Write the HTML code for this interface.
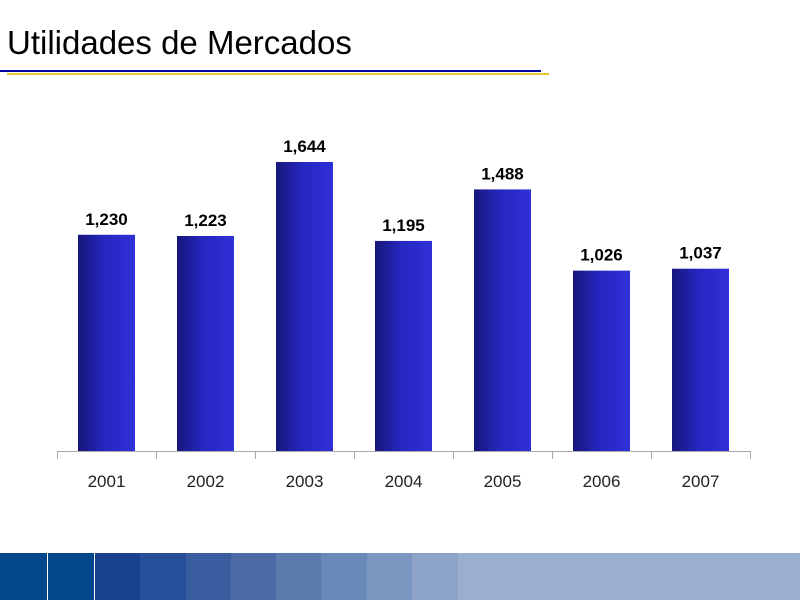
<!DOCTYPE html>
<html><head><meta charset="utf-8"><style>
body{margin:0;width:800px;height:600px;background:#fff;position:relative;overflow:hidden;font-family:"Liberation Sans",sans-serif}
#title{position:absolute;left:7px;top:24px;font-size:33px;color:#000}
</style></head><body>
<div id="title">Utilidades de Mercados</div>
<div style="position:absolute;left:0;top:70px;width:541px;height:2px;background:#0000a0"></div>
<div style="position:absolute;left:7px;top:73px;width:542px;height:2px;background:#e8c830"></div>
<svg id="chart" width="800" height="540" style="position:absolute;left:0;top:0">
<defs><linearGradient id="g" x1="0" x2="1"><stop offset="0" stop-color="#16167a"/><stop offset="0.45" stop-color="#2626c0"/><stop offset="1" stop-color="#3030d8"/></linearGradient></defs>
</svg>
<div id="band"></div>
<script>
const categories=["2001","2002","2003","2004","2005","2006","2007"];
const values=[1230,1223,1644,1195,1488,1026,1037];
const valueLabels=["1,230","1,223","1,644","1,195","1,488","1,026","1,037"];
const svg=document.getElementById('chart'),NS='http://www.w3.org/2000/svg';
const x0=57,step=99,base=451,k=289/1644,bw=57;
const xC=i=>x0+step*i+step/2, yV=v=>base-v*k;
function mk(t,a){const e=document.createElementNS(NS,t);for(const n in a)e.setAttribute(n,a[n]);svg.appendChild(e);return e;}
categories.forEach((c,i)=>{
 const b=mk('rect',{x:xC(i)-bw/2,y:yV(values[i]),width:bw,height:base-yV(values[i]),fill:'url(#g)'});
 
 
 const l=mk('text',{x:xC(i),y:yV(values[i])-10,'text-anchor':'middle','font-size':'17','font-weight':'bold',fill:'#000'});
 l.textContent=valueLabels[i];
 
 
 const t=mk('text',{x:xC(i),y:487,'text-anchor':'middle','font-size':'17',fill:'#222'});
 t.textContent=c;
 
 
});
const ax=mk('line',{x1:x0,x2:x0+step*categories.length,y1:base+0.5,y2:base+0.5,stroke:'#aaa'});


for(let i=0;i<=categories.length;i++){const tk=mk('line',{x1:x0+step*i+0.5,x2:x0+step*i+0.5,y1:base,y2:base+8,stroke:'#aaa'});
 
 }
const band=document.getElementById('band');
const segs=[[0,47,'#03478c'],[48,94,'#03478c'],[95,140,'#17418f'],[140,186,'#264f99'],[186,231,'#3a5da0'],[231,276,'#4b6aa6'],[276,321,'#5b7aad'],[321,367,'#6b89b8'],[367,412,'#7b96c0'],[412,458,'#8ca2c7'],[458,800,'#9aaecf']];
segs.forEach(s=>{const d=document.createElement('div');
 
 
 d.style.cssText=`position:absolute;top:553px;height:47px;left:${s[0]}px;width:${s[1]-s[0]}px;background:${s[2]}`;band.appendChild(d);});
</script>
</body></html>
